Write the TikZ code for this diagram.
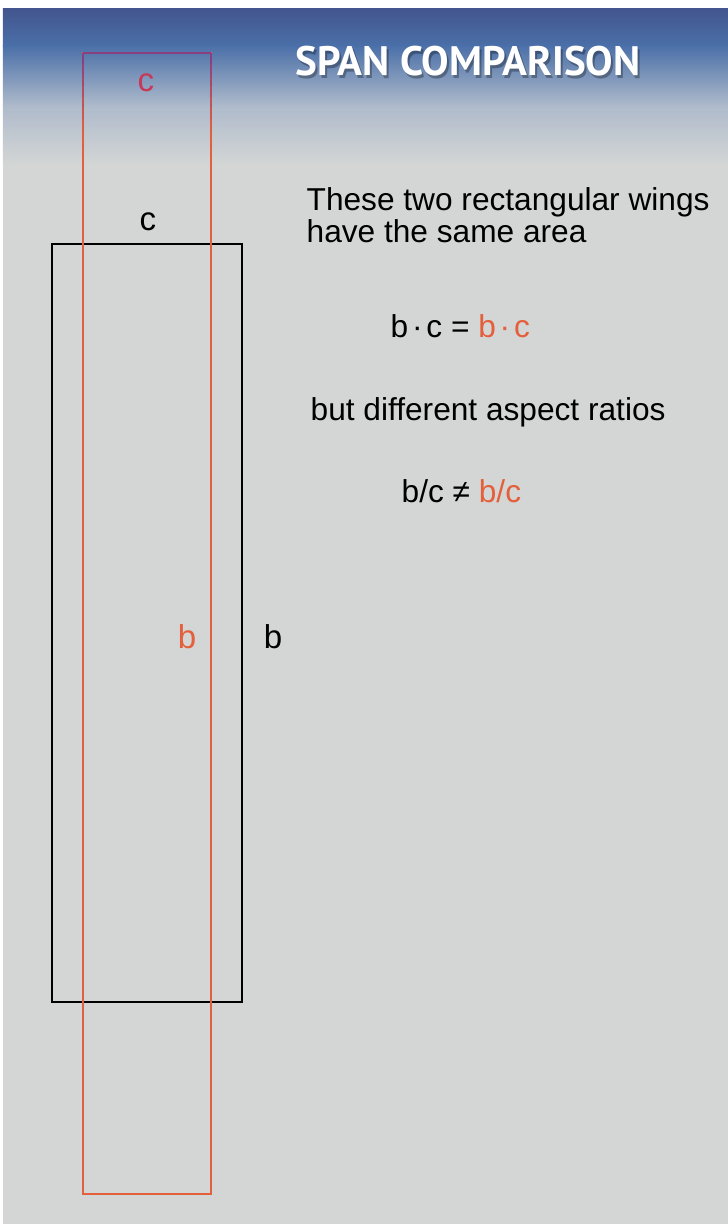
\documentclass[tikz,border=0pt]{standalone}
\usepackage{fontspec}
\setmainfont{Liberation Sans}
\newfontfamily\titlefont{PT Sans}

\definecolor{wingred}{HTML}{E4603C}
\definecolor{wingpurple}{HTML}{8A3F80}
\definecolor{labelcrimson}{HTML}{C63A58}
\definecolor{skytop}{HTML}{43558E}
\definecolor{skymid}{HTML}{4A6FA8}
\definecolor{skylow}{HTML}{AEBACB}
\definecolor{panelgray}{HTML}{D4D6D5}

\newcommand\cdotsp{\kern0.12em·\kern0.12em}

\begin{document}
\begin{tikzpicture}[
    x=0.01cm, y=0.01cm,
    every node/.style={inner sep=0pt},
    bodytext/.style={font=\fontsize{9}{9.1}\selectfont, anchor=base west},
    wingmark/.style={font=\fontsize{9.4}{10}\selectfont, anchor=base},
    titletext/.style={font=\titlefont\bfseries\fontsize{11.7}{12}\selectfont, anchor=base},
    wingline/.style={line width=0.8pt, line join=miter}
]

%% Rozmery krídiel (v pixeloch, y smerom dole)
\def\redL{83}  \def\redR{211}  \def\redT{53}  \def\redB{1194}
\def\blkL{52}  \def\blkR{242}  \def\blkT{244} \def\blkB{1002}

\useasboundingbox (0,0) rectangle (728,-1224);

%% Pozadie a modrý prechod hore
\fill[white] (0,0) rectangle (728,-1224);
\fill[panelgray] (3,-8) rectangle (728,-1224);
\shade[top color=skytop, bottom color=skymid] (3,-8) rectangle (728,-46);
\shade[top color=skymid, bottom color=skylow] (3,-45) rectangle (728,-106);
\shade[top color=skylow, bottom color=panelgray] (3,-105) rectangle (728,-165);

%% Nadpis s tieňom
\node[titletext, black, opacity=0.3] (titleshadow) at (470,-78) {SPAN COMPARISON};
\node[titletext, white] (title) at (468,-75) {SPAN COMPARISON};

%% Čierne krídlo
\draw[wingline, black] (\blkL,-\blkT) rectangle (\blkR,-\blkB);

%% Červené krídlo (horná časť prechádza do fialovej)
\draw[wingline, wingred] (\redL,-\redT) rectangle (\redR,-\redB);
\foreach \i in {0,...,6} {
    \pgfmathsetmacro\mixpct{100-\i*15}
    \pgfmathsetmacro\ya{\redT+\i*11}
    \pgfmathsetmacro\yb{\redT+(\i+1)*11+0.6}
    \draw[wingline, wingpurple!\mixpct!wingred]
        (\redL,-\ya) -- (\redL,-\yb)
        (\redR,-\ya) -- (\redR,-\yb);
}
\draw[wingline, wingpurple, line cap=square] (\redL,-\redT) -- (\redR,-\redT);

%% Popisy strán
\node[wingmark, labelcrimson] (credlabel) at (146,-91) {c};
\node[wingmark, black] (cblklabel) at (148,-230) {c};
\node[wingmark, wingred] (bredlabel) at (187,-648) {b};
\node[wingmark, black] (bblklabel) at (273,-648) {b};

%% Texty vpravo
\node[bodytext, anchor=north west, align=left] (samearea) at (306,-187)
    {These two rectangular wings\\have the same area};
\node[bodytext] (areaeq) at (390,-337)
    {b\cdotsp c = \textcolor{wingred}{b\cdotsp c}};
\node[bodytext] (difftext) at (310,-420) {but different aspect ratios};
\node[bodytext] (ratioeq) at (401,-502)
    {b/c ≠ \textcolor{wingred}{b/c}};

\end{tikzpicture}
\end{document}
